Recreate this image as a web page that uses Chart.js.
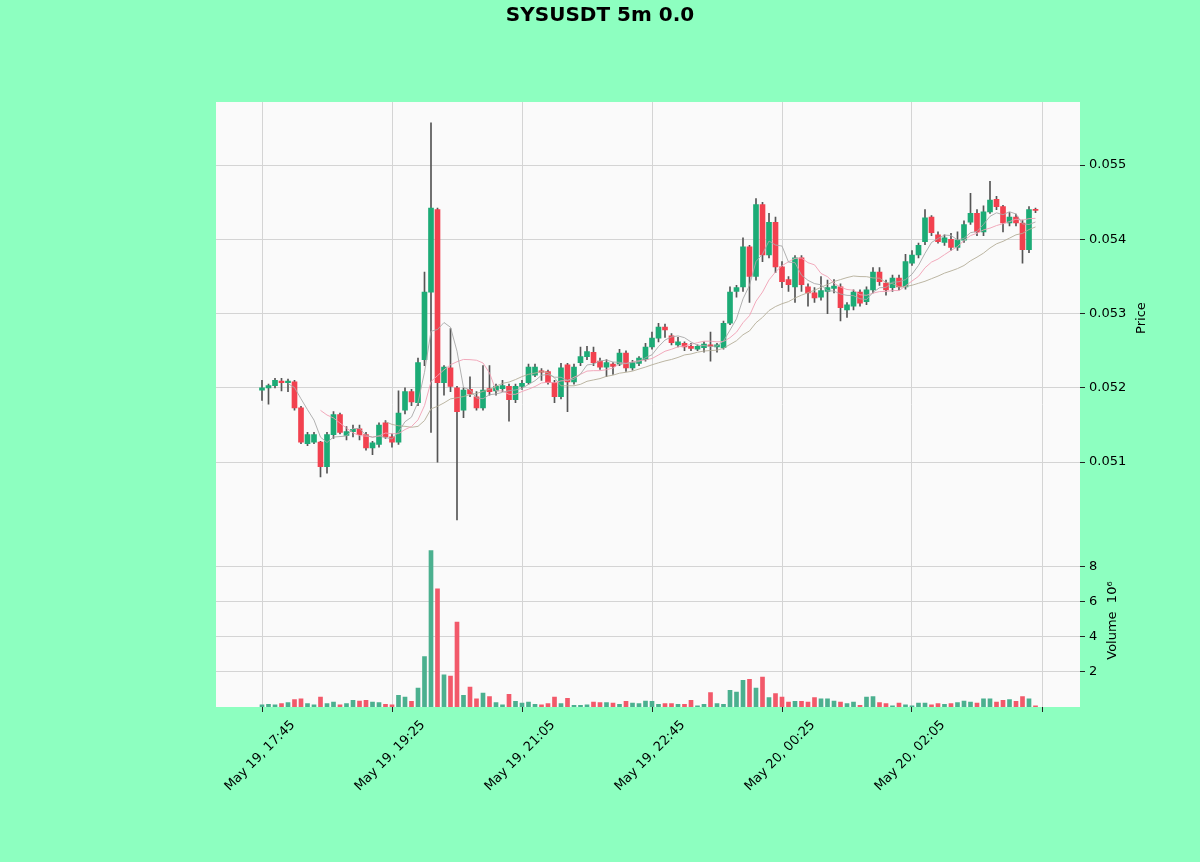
<!DOCTYPE html>
<html>
<head>
<meta charset="utf-8">
<script src="https://cdn.jsdelivr.net/npm/chart.js@4.4.1/dist/chart.umd.min.js"></script>
<style>
  html, body { margin: 0; padding: 0; background: #8dffc0; }
  #wrap { width: 1200px; height: 862px; }
</style>
</head>
<body>
<div id="wrap"><canvas id="chart" width="1200" height="862"></canvas></div>
<script>
const chartTitle = "SYSUSDT 5m 0.0";
const tickIndex = [0, 20, 40, 60, 80, 100, 120];
const tickLabels = ["May 19, 17:45", "May 19, 19:25", "May 19, 21:05", "May 19, 22:45", "May 20, 00:25", "May 20, 02:05", ""];
const priceTicks = [0.051, 0.052, 0.053, 0.054, 0.055];
const volumeTicks = [2, 4, 6, 8]; // x 10^6
const maPeriods = [5, 10, 20];

const opens = [
  0.05197, 0.05200, 0.05203, 0.05209, 0.05207, 0.05208, 0.05173, 0.05125, 0.05127, 0.05127,
  0.05094, 0.05137, 0.05164, 0.05136, 0.05141, 0.05145, 0.05137, 0.05119, 0.05124, 0.05153,
  0.05134, 0.05127, 0.05170, 0.05195, 0.05180, 0.05238, 0.05329, 0.05440, 0.05207, 0.05227,
  0.05200, 0.05170, 0.05198, 0.05188, 0.05173, 0.05199, 0.05196, 0.05199, 0.05202, 0.05184,
  0.05202, 0.05207, 0.05217, 0.05223, 0.05222, 0.05207, 0.05188, 0.05231, 0.05208, 0.05234,
  0.05242, 0.05248, 0.05236, 0.05228, 0.05232, 0.05232, 0.05247, 0.05227, 0.05233, 0.05238,
  0.05255, 0.05267, 0.05282, 0.05270, 0.05258, 0.05260, 0.05256, 0.05252, 0.05254, 0.05258,
  0.05255, 0.05254, 0.05287, 0.05330, 0.05336, 0.05390, 0.05350, 0.05447, 0.05379, 0.05423,
  0.05363, 0.05346, 0.05336, 0.05375, 0.05336, 0.05328, 0.05322, 0.05330, 0.05334, 0.05336,
  0.05305, 0.05310, 0.05329, 0.05316, 0.05332, 0.05356, 0.05341, 0.05335, 0.05348, 0.05336,
  0.05368, 0.05379, 0.05397, 0.05430, 0.05406, 0.05396, 0.05400, 0.05389, 0.05399, 0.05423,
  0.05435, 0.05410, 0.05437, 0.05454, 0.05444, 0.05422, 0.05430, 0.05422, 0.05386, 0.05440
];
const highs = [
  0.05210, 0.05205, 0.05213, 0.05213, 0.05212, 0.05210, 0.05175, 0.05140, 0.05140, 0.05128,
  0.05140, 0.05168, 0.05166, 0.05148, 0.05150, 0.05150, 0.05140, 0.05128, 0.05153, 0.05156,
  0.05138, 0.05196, 0.05200, 0.05198, 0.05240, 0.05356, 0.05557, 0.05442, 0.05230, 0.05280,
  0.05202, 0.05200, 0.05215, 0.05195, 0.05230, 0.05230, 0.05205, 0.05210, 0.05205, 0.05205,
  0.05210, 0.05232, 0.05232, 0.05226, 0.05224, 0.05210, 0.05233, 0.05233, 0.05232, 0.05255,
  0.05256, 0.05255, 0.05240, 0.05238, 0.05234, 0.05252, 0.05250, 0.05237, 0.05242, 0.05260,
  0.05275, 0.05287, 0.05286, 0.05273, 0.05268, 0.05262, 0.05260, 0.05258, 0.05262, 0.05275,
  0.05260, 0.05290, 0.05336, 0.05338, 0.05402, 0.05392, 0.05455, 0.05450, 0.05435, 0.05430,
  0.05370, 0.05350, 0.05378, 0.05378, 0.05340, 0.05335, 0.05350, 0.05345, 0.05346, 0.05340,
  0.05315, 0.05332, 0.05332, 0.05336, 0.05362, 0.05362, 0.05345, 0.05352, 0.05352, 0.05380,
  0.05385, 0.05395, 0.05440, 0.05432, 0.05410, 0.05406, 0.05408, 0.05410, 0.05425, 0.05462,
  0.05440, 0.05445, 0.05478, 0.05458, 0.05446, 0.05436, 0.05434, 0.05426, 0.05444, 0.05442
];
const lows = [
  0.05183, 0.05178, 0.05200, 0.05196, 0.05195, 0.05170, 0.05125, 0.05122, 0.05125, 0.05080,
  0.05085, 0.05132, 0.05138, 0.05130, 0.05134, 0.05130, 0.05116, 0.05110, 0.05120, 0.05132,
  0.05120, 0.05124, 0.05165, 0.05176, 0.05176, 0.05230, 0.05140, 0.05100, 0.05190, 0.05195,
  0.05022, 0.05160, 0.05188, 0.05170, 0.05170, 0.05190, 0.05190, 0.05195, 0.05155, 0.05180,
  0.05198, 0.05205, 0.05215, 0.05210, 0.05205, 0.05180, 0.05185, 0.05168, 0.05205, 0.05230,
  0.05238, 0.05230, 0.05225, 0.05215, 0.05218, 0.05230, 0.05222, 0.05224, 0.05230, 0.05236,
  0.05252, 0.05262, 0.05268, 0.05258, 0.05255, 0.05250, 0.05250, 0.05250, 0.05248, 0.05236,
  0.05248, 0.05252, 0.05285, 0.05322, 0.05330, 0.05315, 0.05345, 0.05370, 0.05375, 0.05355,
  0.05335, 0.05330, 0.05315, 0.05330, 0.05310, 0.05315, 0.05318, 0.05300, 0.05328, 0.05290,
  0.05295, 0.05305, 0.05310, 0.05312, 0.05328, 0.05338, 0.05325, 0.05330, 0.05332, 0.05333,
  0.05365, 0.05375, 0.05393, 0.05405, 0.05395, 0.05392, 0.05385, 0.05385, 0.05396, 0.05420,
  0.05405, 0.05405, 0.05435, 0.05440, 0.05410, 0.05418, 0.05418, 0.05368, 0.05382, 0.05436
];
const closes = [
  0.05200, 0.05203, 0.05210, 0.05207, 0.05209, 0.05173, 0.05127, 0.05137, 0.05137, 0.05094,
  0.05137, 0.05164, 0.05140, 0.05141, 0.05144, 0.05137, 0.05119, 0.05126, 0.05150, 0.05134,
  0.05127, 0.05166, 0.05195, 0.05181, 0.05234, 0.05329, 0.05442, 0.05207, 0.05228, 0.05202,
  0.05168, 0.05197, 0.05192, 0.05173, 0.05197, 0.05195, 0.05202, 0.05203, 0.05184, 0.05202,
  0.05206, 0.05228, 0.05228, 0.05221, 0.05207, 0.05188, 0.05227, 0.05208, 0.05228, 0.05242,
  0.05249, 0.05234, 0.05228, 0.05234, 0.05229, 0.05247, 0.05227, 0.05234, 0.05240, 0.05255,
  0.05267, 0.05282, 0.05278, 0.05261, 0.05262, 0.05255, 0.05253, 0.05256, 0.05259, 0.05256,
  0.05258, 0.05287, 0.05329, 0.05335, 0.05390, 0.05350, 0.05447, 0.05379, 0.05423, 0.05363,
  0.05343, 0.05339, 0.05375, 0.05339, 0.05328, 0.05321, 0.05331, 0.05335, 0.05337, 0.05308,
  0.05312, 0.05329, 0.05314, 0.05332, 0.05356, 0.05343, 0.05332, 0.05348, 0.05336, 0.05370,
  0.05379, 0.05392, 0.05429, 0.05409, 0.05397, 0.05402, 0.05389, 0.05399, 0.05420, 0.05435,
  0.05410, 0.05437, 0.05453, 0.05444, 0.05422, 0.05430, 0.05422, 0.05386, 0.05440, 0.05439
];
// volume in millions
const volumes = [
  0.13, 0.15, 0.13, 0.19, 0.25, 0.42, 0.47, 0.19, 0.13, 0.57,
  0.19, 0.28, 0.13, 0.19, 0.38, 0.34, 0.38, 0.28, 0.25, 0.15,
  0.13, 0.66, 0.57, 0.32, 1.08, 2.88, 8.92, 6.74, 1.84, 1.76,
  4.84, 0.66, 1.14, 0.46, 0.80, 0.60, 0.25, 0.13, 0.72, 0.32,
  0.23, 0.28, 0.15, 0.13, 0.19, 0.57, 0.19, 0.49, 0.10, 0.10,
  0.13, 0.28, 0.25, 0.25, 0.23, 0.15, 0.32, 0.23, 0.19, 0.34,
  0.32, 0.15, 0.19, 0.19, 0.15, 0.15, 0.38, 0.06, 0.15, 0.82,
  0.19, 0.15, 0.95, 0.85, 1.52, 1.57, 1.08, 1.71, 0.53, 0.76,
  0.57, 0.28, 0.32, 0.32, 0.28, 0.53, 0.47, 0.47, 0.34, 0.28,
  0.19, 0.28, 0.10, 0.57, 0.60, 0.25, 0.19, 0.06, 0.23, 0.13,
  0.06, 0.23, 0.23, 0.13, 0.19, 0.15, 0.19, 0.25, 0.34, 0.28,
  0.23, 0.47, 0.47, 0.28, 0.38, 0.42, 0.32, 0.60, 0.47, 0.06
];

const upColor = "#1cab76";
const downColor = "#f2414f";
const upVolColor = "#4bb08f";
const downVolColor = "#f2596a";
const maColors = ["#a8a8a8", "#f0a0b4", "#b4ae98"];
const gridColor = "#d4d4d4";
const tickFont = { family: "DejaVu Sans", size: 13 };

function movingAverage(values, n) {
    return values.map((v, i) => {
        if (i < n - 1) return null;
        let sum = 0;
        for (let k = i - n + 1; k <= i; k++) sum += values[k];
        return sum / n;
    });
}

const idx = opens.map((_, i) => i);
const isUp = idx.map(i => closes[i] >= opens[i]);

const maDatasets = maPeriods.map((p, k) => {
    const ma = movingAverage(closes, p);
    return {
        type: "line",
        yAxisID: "y",
        data: idx.map(i => ({ x: i, y: ma[i] })),
        borderColor: maColors[k],
        borderWidth: 0.9,
        pointRadius: 0,
        spanGaps: false,
        order: 1
    };
});

const panelBackground = {
    id: "panelBackground",
    beforeDraw(chart) {
        const { ctx, chartArea: a } = chart;
        ctx.save();
        ctx.fillStyle = "#fafafa";
        ctx.fillRect(a.left, a.top, a.right - a.left, a.bottom - a.top);
        ctx.restore();
    }
};

const textLayer = {
    id: "textLayer",
    afterDraw(chart) {
        const { ctx, chartArea: a, scales } = chart;
        ctx.save();
        ctx.fillStyle = "#000";
        ctx.textAlign = "center";
        ctx.textBaseline = "middle";
        ctx.font = 'bold 20px "DejaVu Sans"';
        ctx.fillText(chartTitle, 600, 16);

        ctx.font = '13px "DejaVu Sans"';
        tickIndex.forEach((v, k) => {
            if (!tickLabels[k]) return;
            const x = scales.x.getPixelForValue(v);
            ctx.save();
            ctx.translate(x - 2, a.bottom + 49);
            ctx.rotate(-Math.PI / 4);
            ctx.fillText(tickLabels[k], 0, 0);
            ctx.restore();
        });

        const py = (scales.y.top + scales.y.bottom) / 2;
        ctx.save();
        ctx.translate(a.right + 62, py);
        ctx.rotate(-Math.PI / 2);
        ctx.fillText("Price", 0, 0);
        ctx.restore();

        const vy = (scales.v.top + scales.v.bottom) / 2;
        ctx.save();
        ctx.translate(a.right + 33, vy);
        ctx.rotate(-Math.PI / 2);
        ctx.fillText("Volume  10\u2076", 0, 0);
        ctx.restore();
        ctx.restore();
    }
};

// x axis: 6.5 px per candle, candle 0 at x=262
const xMin = -46 / 6.5;
const xMax = xMin + 864 / 6.5;

new Chart(document.getElementById("chart"), {
    type: "bar",
    data: {
        datasets: [
            ...maDatasets,
            {
                label: "body",
                yAxisID: "y",
                data: idx.map(i => ({ x: i, y: [opens[i], closes[i]] })),
                backgroundColor: idx.map(i => isUp[i] ? upColor : downColor),
                barThickness: 5,
                minBarLength: 1,
                grouped: false,
                order: 2
            },
            {
                label: "wick",
                yAxisID: "y",
                data: idx.map(i => ({ x: i, y: [lows[i], highs[i]] })),
                backgroundColor: "#555555",
                barThickness: 1,
                grouped: false,
                order: 3
            },
            {
                label: "volume",
                yAxisID: "v",
                data: idx.map(i => ({ x: i, y: volumes[i] })),
                backgroundColor: idx.map(i => isUp[i] ? upVolColor : downVolColor),
                barThickness: 4,
                grouped: false,
                order: 2
            }
        ]
    },
    options: {
        responsive: false,
        animation: false,
        layout: { padding: { left: 216, right: 50, top: 102, bottom: 0 } },
        plugins: { legend: { display: false }, tooltip: { enabled: false } },
        scales: {
            x: {
                type: "linear",
                min: xMin,
                max: xMax,
                offset: false,
                afterBuildTicks: s => { s.ticks = tickIndex.map(v => ({ value: v })); },
                afterFit: s => { s.height = 155; },
                grid: { color: gridColor, tickColor: "#222", tickLength: 5, offset: false },
                border: { display: false },
                ticks: { display: false }
            },
            y: {
                position: "right",
                stack: "panels",
                stackWeight: 5,
                min: 0.05003,
                max: 0.05585,
                afterBuildTicks: s => { s.ticks = priceTicks.map(v => ({ value: v })); },
                afterFit: s => { s.width = 70; },
                grid: { color: gridColor, tickColor: "#222", tickLength: 5 },
                border: { display: false },
                ticks: { font: tickFont, color: "#000", padding: 4, callback: v => v.toFixed(3) }
            },
            v: {
                position: "right",
                stack: "panels",
                stackWeight: 2,
                min: 0,
                max: 9.85,
                afterBuildTicks: s => { s.ticks = volumeTicks.map(v => ({ value: v })); },
                afterFit: s => { s.width = 70; },
                grid: { color: gridColor, tickColor: "#222", tickLength: 5 },
                border: { display: false },
                ticks: { font: tickFont, color: "#000", padding: 4, callback: v => String(v) }
            }
        }
    },
    plugins: [panelBackground, textLayer]
});
</script>
</body>
</html>
